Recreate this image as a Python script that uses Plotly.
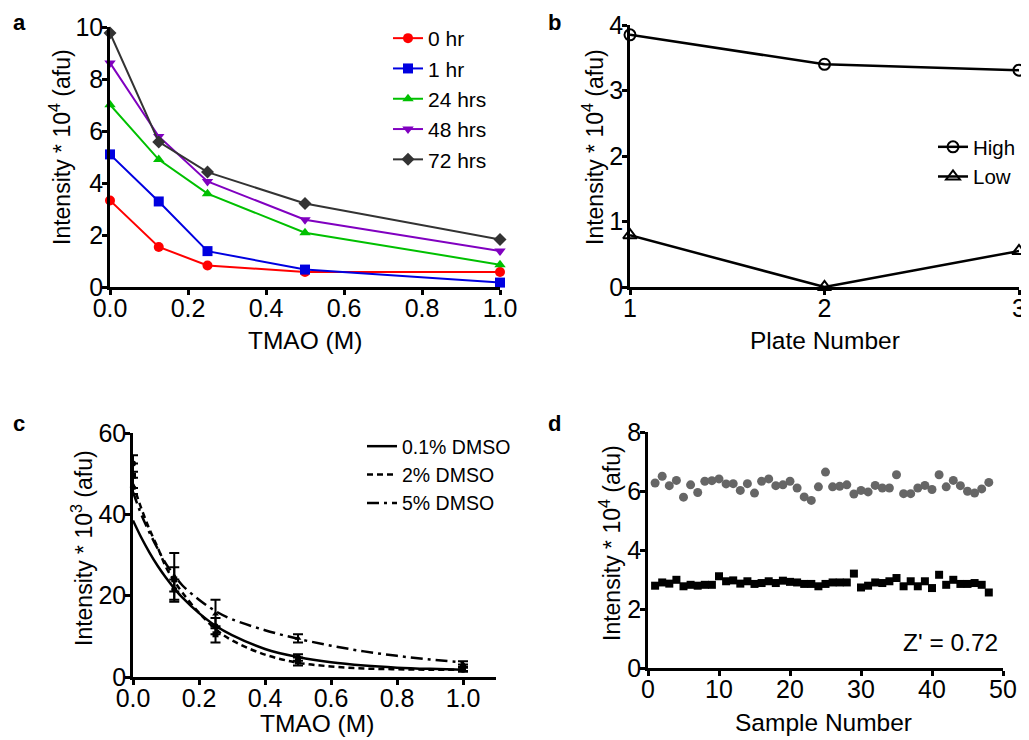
import plotly.graph_objects as go

# the page body adds an 8px margin, so the figure is sized to fit the window
PAGE_PAD = 8
W, H = 1029 - PAGE_PAD, 740 - PAGE_PAD
FONT = "Liberation Sans, Arial, sans-serif"

# ---- panel a: intensity vs TMAO over time
tmao = [0, 0.125, 0.25, 0.5, 1.0]
a_names = ["0 hr", "1 hr", "24 hrs", "48 hrs", "72 hrs"]
a_0hr = [3.33, 1.54, 0.83, 0.58, 0.58]
a_1hr = [5.10, 3.29, 1.38, 0.67, 0.17]
a_24hr = [7.01, 4.90, 3.59, 2.09, 0.86]
a_48hr = [8.62, 5.79, 4.06, 2.59, 1.38]
a_72hr = [9.77, 5.58, 4.42, 3.21, 1.83]

# ---- panel b: plate reproducibility
plates = [1, 2, 3]
b_high = [3.85, 3.40, 3.31]
b_low = [0.79, 0.0, 0.55]

# ---- panel c: DMSO tolerance (points + fitted curves)
c_names = ["0.1% DMSO", "2% DMSO", "5% DMSO"]
c_01 = [52.5, 21.5, 12.5, 4.8, 1.8]
c_01_err = [2.0, 2.5, 2.0, 0.8, 0.5]
c_2 = [49.5, 24.0, 10.5, 3.8, 2.3]
c_2_err = [3.0, 3.0, 2.0, 1.0, 0.8]
c_5 = [47.0, 24.5, 15.5, 9.5, 3.2]
c_5_err = [2.0, 6.0, 3.5, 1.0, 0.7]
fit_x = [0, 0.025, 0.05, 0.075, 0.1, 0.125, 0.15, 0.2, 0.25, 0.3, 0.4, 0.5, 0.6, 0.7, 0.8, 0.9, 1.0]
fit_01 = [38.5, 34.3, 30.6, 27.3, 24.4, 21.8, 19.5, 15.7, 12.6, 10.3, 6.9, 4.9, 3.6, 2.8, 2.3, 2.0, 1.8]
fit_2 = [47.5, 41.5, 36.3, 31.8, 27.0, 23.6, 20.7, 15.8, 11.8, 9.0, 5.5, 3.5, 2.6, 2.1, 1.9, 1.8, 1.8]
fit_5 = [45.5, 40.0, 35.5, 31.5, 27.8, 25.0, 22.5, 19.0, 16.2, 14.2, 11.5, 9.4, 7.7, 6.3, 5.2, 4.3, 3.6]

# ---- panel d: Z' screen, 48 samples
samples = list(range(1, 49))
d_high = [6.27, 6.50, 6.18, 6.36, 5.79, 6.21, 5.95, 6.33, 6.35, 6.41,
          6.24, 6.25, 6.02, 6.25, 5.93, 6.33, 6.41, 6.18, 6.21, 6.33,
          6.10, 5.80, 5.68, 6.14, 6.64, 6.14, 6.16, 6.21, 5.90, 6.02,
          5.97, 6.19, 6.10, 6.10, 6.55, 5.91, 5.91, 6.10, 6.19, 6.05,
          6.55, 6.14, 6.36, 6.18, 5.99, 5.93, 6.07, 6.29]
d_low = [2.79, 2.90, 2.86, 2.99, 2.77, 2.82, 2.79, 2.82, 2.82, 3.11,
         2.94, 2.97, 2.86, 2.94, 2.85, 2.88, 2.94, 2.88, 2.96, 2.92,
         2.90, 2.85, 2.85, 2.77, 2.85, 2.90, 2.90, 2.90, 3.20, 2.73,
         2.79, 2.90, 2.88, 2.94, 3.05, 2.77, 2.94, 2.77, 2.94, 2.71,
         3.16, 2.82, 2.99, 2.85, 2.85, 2.88, 2.82, 2.56]


# screen pixel -> paper fraction
def fx(p):
    return (p - PAGE_PAD) / W


def fy(p):
    return 1 - (p - PAGE_PAD) / H


fig = go.Figure()

# panel a traces
a_colors = ["#ff0000", "#0000e0", "#00c000", "#8000c0", "#333333"]
a_symbols = ["circle", "square", "triangle-up", "triangle-down", "diamond"]
for name, vals, col, sym in zip(a_names, [a_0hr, a_1hr, a_24hr, a_48hr, a_72hr], a_colors, a_symbols):
    fig.add_trace(go.Scatter(x=tmao, y=vals, name=name, mode="lines+markers",
                             line=dict(color=col, width=2),
                             marker=dict(symbol=sym, size=10, color=col),
                             cliponaxis=False, xaxis="x", yaxis="y", legend="legend"))

# panel b traces
fig.add_trace(go.Scatter(x=plates, y=b_high, name="High", mode="lines+markers",
                         line=dict(color="black", width=2.5),
                         marker=dict(symbol="circle-open", size=11, color="black", line=dict(width=2)),
                         cliponaxis=False, xaxis="x2", yaxis="y2", legend="legend2"))
fig.add_trace(go.Scatter(x=plates, y=b_low, name="Low", mode="lines+markers",
                         line=dict(color="black", width=2.5),
                         marker=dict(symbol="triangle-up-open", size=12, color="black", line=dict(width=2)),
                         cliponaxis=False, xaxis="x2", yaxis="y2", legend="legend2"))

# panel c traces: fitted curves carry the legend, points with error bars
c_dash = ["solid", "6px,4px", "12px,5px,3px,5px"]
c_syms = ["circle", "square", "triangle-up"]
for name, fit, dash in zip(c_names, [fit_01, fit_2, fit_5], c_dash):
    fig.add_trace(go.Scatter(x=fit_x, y=fit, name=name, mode="lines", line_shape="spline",
                             line=dict(color="black", width=2.5, dash=dash),
                             cliponaxis=False, xaxis="x3", yaxis="y3", legend="legend3",
                             legendgroup=name))
for name, vals, err, sym in zip(c_names, [c_01, c_2, c_5], [c_01_err, c_2_err, c_5_err], c_syms):
    fig.add_trace(go.Scatter(x=tmao, y=vals, name=name, mode="markers", showlegend=False,
                             marker=dict(symbol=sym, size=6, color="black"),
                             error_y=dict(type="data", array=err, color="black", thickness=2, width=5),
                             cliponaxis=False, xaxis="x3", yaxis="y3", legendgroup=name))

# panel d traces
fig.add_trace(go.Scatter(x=samples, y=d_high, mode="markers", showlegend=False,
                         marker=dict(symbol="circle", size=9, color="#666666"),
                         xaxis="x4", yaxis="y4"))
fig.add_trace(go.Scatter(x=samples, y=d_low, mode="markers", showlegend=False,
                         marker=dict(symbol="square", size=8, color="black"),
                         xaxis="x4", yaxis="y4"))

tick_font = dict(family=FONT, size=25, color="black")
axis_common = dict(showline=True, linecolor="black", linewidth=2.5, ticks="outside",
                   ticklen=5, tickwidth=2.5, tickcolor="black", showgrid=False,
                   zeroline=False, tickfont=tick_font, automargin=False)
x_common = dict(axis_common, ticklabelstandoff=-8)
y_common = dict(axis_common, ticklabelstandoff=-6)

legend_common = dict(xanchor="right", yanchor="top", bgcolor="rgba(0,0,0,0)",
                     itemwidth=30, tracegroupgap=0)

fig.update_layout(
    width=W, height=H,
    margin=dict(l=0, r=0, t=0, b=0, autoexpand=False),
    paper_bgcolor="white", plot_bgcolor="white",
    font=dict(family=FONT, color="black"),
    xaxis=dict(x_common, domain=[fx(110), fx(500)], range=[0, 1.0], anchor="y",
               tickvals=[0, 0.2, 0.4, 0.6, 0.8, 1.0], tickformat=".1f"),
    yaxis=dict(y_common, domain=[fy(287), fy(27)], range=[0, 10], anchor="x",
               tickvals=[0, 2, 4, 6, 8, 10]),
    xaxis2=dict(x_common, domain=[fx(630), fx(1019)], range=[1, 3], anchor="y2",
                tickvals=[1, 2, 3]),
    yaxis2=dict(y_common, domain=[fy(287), fy(25)], range=[0, 4], anchor="x2",
                tickvals=[0, 1, 2, 3, 4]),
    xaxis3=dict(x_common, domain=[fx(133), fx(496)], range=[0, 1.1], anchor="y3",
                tickvals=[0, 0.2, 0.4, 0.6, 0.8, 1.0], tickformat=".1f"),
    yaxis3=dict(y_common, domain=[fy(677), fy(433)], range=[0, 60], anchor="x3",
                tickvals=[0, 20, 40, 60]),
    xaxis4=dict(x_common, domain=[fx(648), fx(1003)], range=[0, 50], anchor="y4",
                tickvals=[0, 10, 20, 30, 40, 50]),
    yaxis4=dict(y_common, domain=[fy(668), fy(432)], range=[0, 8], anchor="x4",
                tickvals=[0, 2, 4, 6, 8]),
    legend=dict(legend_common, x=fx(492), y=fy(18),
                font=dict(family=FONT, size=21, color="black")),
    legend2=dict(legend_common, x=fx(1021), y=fy(127),
                 font=dict(family=FONT, size=20.5, color="black")),
    legend3=dict(legend_common, x=fx(516), y=fy(427),
                 font=dict(family=FONT, size=19.5, color="black")),
)

# axis titles as paper annotations (x centre, y centre, text, angle, size)
ytitle4 = "Intensity * 10<sup>4</sup> (afu)"
ytitle3 = "Intensity * 10<sup>3</sup> (afu)"
axis_titles = [
    (305, 340, "TMAO (M)", 0, 24.5),
    (60, 147, ytitle4, -90, 23),
    (825, 340, "Plate Number", 0, 24.5),
    (593, 147, ytitle4, -90, 23),
    (317, 723, "TMAO (M)", 0, 24.5),
    (82, 548, ytitle3, -90, 23),
    (823, 722, "Sample Number", 0, 24.5),
    (610, 543, ytitle4, -90, 23),
]
for x, y, text, ang, size in axis_titles:
    fig.add_annotation(text=text, x=fx(x), y=fy(y), xref="paper", yref="paper",
                       xanchor="center", yanchor="middle", textangle=ang, showarrow=False,
                       font=dict(family=FONT, size=size, color="black"))

# panel letters and Z' label
for letter, x, y in [("a", 11, 22), ("b", 546, 23), ("c", 11, 423), ("d", 546, 423)]:
    fig.add_annotation(text="<b>%s</b>" % letter, x=fx(x), y=fy(y), xref="paper", yref="paper",
                       xanchor="left", yanchor="middle", showarrow=False,
                       font=dict(family=FONT, size=22, color="black"))
fig.add_annotation(text="Z' = 0.72", x=49.6, y=0.85, xref="x4", yref="y4", xanchor="right",
                   yanchor="middle", showarrow=False, font=dict(family=FONT, size=24.5, color="black"))

fig.write_html("out.html")
